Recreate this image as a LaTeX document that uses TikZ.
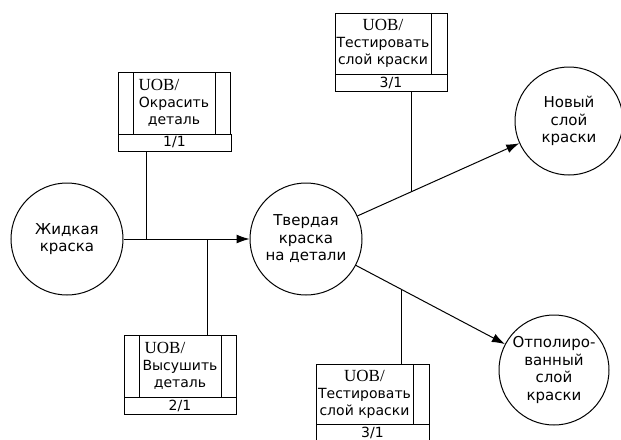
\documentclass[tikz,border=0pt]{standalone}
\usepackage{fontspec}
\setmainfont{DejaVu Sans}
\newfontfamily\uobfont{Liberation Serif}
\usepackage{tikz}
\usetikzlibrary{arrows.meta,positioning,calc}
\newcommand{\lbl}{\fontsize{15}{17.5}\selectfont}
\newcommand{\boxlbl}{\fontsize{14}{17}\selectfont}
\newcommand{\uob}{{\uobfont\fontsize{17}{17}\selectfont UOB/}}
\tikzset{
  store/.style={draw,circle,line width=1pt,minimum size=112pt,inner sep=0pt,align=center,font=\lbl},
  procbody/.style={draw,line width=1pt,minimum height=62pt,inner sep=0pt,outer sep=0pt,align=center,font=\boxlbl},
  strip/.style={draw,line width=1pt,minimum height=62pt,minimum width=15pt,inner sep=0pt,outer sep=0pt},
  numrow/.style={draw,line width=1pt,minimum height=17pt,inner sep=0pt,outer sep=0pt,font=\boxlbl},
  flow/.style={-{Latex[length=13pt,width=9pt]},line width=1pt},
  link/.style={line width=1pt}
}
\begin{document}
\begin{tikzpicture}[x=1pt,y=-1pt]
  \useasboundingbox[fill=white] (0,0) rectangle (621,439);
  \node[store] (liquid) at (67,239) {Жидкая\\краска};
  \node[store] (solid) at (306,239) {Твердая\\краска\\на детали};
  \node[store,minimum size=108pt] (new) at (569,121) {Новый\\слой\\краски};
  \node[store,minimum size=110pt] (polished) at (554,370) {Отполиро-\\ванный\\слой\\краски};
  \node[procbody,minimum width=82pt] (paint) at (174,103) {\uob\hspace*{30pt}\\Окрасить\\деталь};
  \node[strip,left=0pt of paint] (paintL) {};
  \node[strip,right=0pt of paint] (paintR) {};
  \node[numrow,minimum width=113pt,anchor=north west] (paintnum) at (paintL.south west) {1/1};
  \node[procbody,minimum width=82pt] (dry) at (180,366) {\uob\hspace*{30pt}\\Высушить\\деталь};
  \node[strip,left=0pt of dry] (dryL) {};
  \node[strip,right=0pt of dry] (dryR) {};
  \node[numrow,minimum width=112pt,anchor=north west] (drynum) at (dryL.south west) {2/1};
  \node[procbody,minimum width=96pt,minimum height=61pt] (testA) at (383,43.5) {\uob\\Тестировать\\слой краски};
  \node[strip,minimum height=61pt,minimum width=16pt,right=0pt of testA] (testAR) {};
  \node[numrow,minimum width=112pt,anchor=north west] (testAnum) at (testA.south west) {3/1};
  \node[procbody,minimum width=97pt,minimum height=60pt] (testB) at (364.5,394) {\uob\\Тестировать\\слой краски};
  \node[strip,minimum height=60pt,minimum width=16pt,right=0pt of testB] (testBR) {};
  \node[numrow,minimum width=113pt,anchor=north west] (testBnum) at (testB.south west) {3/1};
  \draw[flow] (liquid) -- (solid);
  \draw[flow] (solid) -- (new);
  \draw[flow] (solid) -- (polished);
  \coordinate (j1) at (146,239);
  \coordinate (j2) at (207,239);
  \coordinate (j3) at ($(solid)!0.4!(new)$);
  \coordinate (j4) at ($(solid)!0.387!(polished)$);
  \draw[link] (paintnum.south -| j1) -- (j1);
  \draw[link] (dry.north -| j2) -- (j2);
  \draw[link] (testAnum.south -| j3) -- (j3);
  \draw[link] (testB.north -| j4) -- (j4);
\end{tikzpicture}
\end{document}
